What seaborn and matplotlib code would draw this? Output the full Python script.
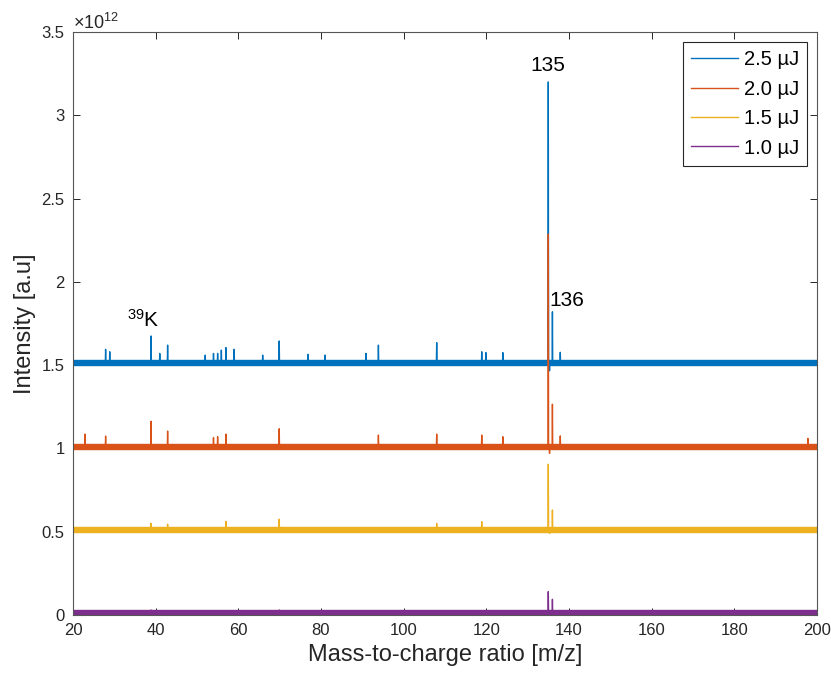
import numpy as np
import pandas as pd
import matplotlib
matplotlib.use('Agg')
import matplotlib.pyplot as plt
import seaborn as sns

# energies (legend order = plotting order)
labels = ['2.5 µJ', '2.0 µJ', '1.5 µJ', '1.0 µJ']
colors = ['#0072BD', '#D95319', '#EDB120', '#7E2F8E']
baselines = [1.515e12, 1.01e12, 0.51e12, 0.01e12]

# peak positions (m/z) and apex intensities
peaks_mz = [
    [27.9, 28.9, 38.9, 41.0, 42.9, 52.0, 54.0, 55.0, 55.9, 57.0, 59.0, 65.9, 69.9,
     76.9, 81.0, 90.9, 93.9, 108.0, 118.9, 119.9, 124.0, 135.0, 135.3, 136.0, 137.9],
    [22.9, 27.9, 38.9, 42.9, 54.0, 55.0, 57.0, 69.9, 93.9, 108.0, 118.9, 124.0,
     135.0, 135.3, 136.0, 137.9, 197.8],
    [38.9, 42.9, 57.0, 69.9, 108.0, 118.9, 135.0, 135.3, 136.0],
    [38.9, 69.9, 135.0, 135.3, 136.0],
]
peaks_int = [
    [1.595e12, 1.58e12, 1.675e12, 1.57e12, 1.62e12, 1.56e12, 1.57e12, 1.57e12, 1.59e12,
     1.605e12, 1.595e12, 1.56e12, 1.645e12, 1.565e12, 1.56e12, 1.57e12, 1.62e12,
     1.635e12, 1.58e12, 1.575e12, 1.575e12, 3.20e12, 1.466e12, 1.82e12, 1.577e12],
    [1.086e12, 1.074e12, 1.163e12, 1.104e12, 1.065e12, 1.07e12, 1.086e12, 1.118e12,
     1.08e12, 1.086e12, 1.08e12, 1.07e12, 2.287e12, 0.97e12, 1.265e12, 1.075e12, 1.06e12],
    [0.55e12, 0.545e12, 0.562e12, 0.575e12, 0.55e12, 0.56e12, 0.905e12, 0.49e12, 0.63e12],
    [0.03e12, 0.03e12, 0.14e12, 0.0e12, 0.094e12],
]
mz_range = [20, 200]

plt.rcParams['font.family'] = ['Liberation Sans', 'DejaVu Sans']
plt.rcParams['mathtext.fontset'] = 'custom'
plt.rcParams['mathtext.rm'] = 'Liberation Sans'
plt.rcParams['mathtext.it'] = 'Liberation Sans'

fig = plt.figure(figsize=(8.31, 6.79), dpi=100)
ax = fig.add_axes([0.0878, 0.0943, 0.8953, 0.8586])

w = 0.07
for lab, col, base, mzs, ints in zip(labels, colors, baselines, peaks_mz, peaks_int):
    xs, ys = [mz_range[0]], [base]
    for m, v in zip(mzs, ints):
        xs += [m - w, m, m + w]
        ys += [base, v, base]
    xs.append(mz_range[1])
    ys.append(base)
    df = pd.DataFrame({'mz': xs, 'I': ys})
    # noise band of the baseline
    sns.lineplot(x=[mz_range[0], mz_range[1]], y=[base, base], color=col, lw=4.6,
                 ax=ax, legend=False)
    sns.lineplot(data=df, x='mz', y='I', color=col, lw=1.0, sort=False,
                 estimator=None, ax=ax, label=lab)

ax.set_xlim(20, 200)
ax.set_ylim(0, 3.5e12)
ax.set_xticks(np.arange(20, 201, 20))
yt = np.arange(0, 3.51, 0.5)
ax.set_yticks(yt * 1e12)
ax.set_yticklabels([f'{v:g}' for v in yt])
ax.tick_params(direction='in', top=True, right=True, length=5, width=0.7,
               labelsize=12, colors='#262626', pad=6)
for sp in ax.spines.values():
    sp.set_color('#555555')
    sp.set_linewidth(0.8)

ax.set_xlabel('Mass-to-charge ratio [m/z]', fontsize=17, color='#262626')
ax.set_ylabel('Intensity [a.u]', fontsize=17, color='#262626')
ax.text(0.0, 0.998, r'$\times10^{12}$', transform=ax.transAxes, fontsize=13,
        ha='left', va='bottom', color='#262626')

ax.text(135.0, 3.24e12, '135', ha='center', va='bottom', fontsize=15)
ax.text(135.2, 1.885e12, '136', ha='left', va='center', fontsize=15)
ax.text(33.0, 1.77e12, r'$^{39}$K', ha='left', va='center', fontsize=15)

leg = ax.legend(loc='upper right', fontsize=14.5, handlelength=2.3, labelspacing=0.52,
                borderaxespad=0.5, fancybox=False, framealpha=1, borderpad=0.4,
                handletextpad=0.3)
leg.get_frame().set_edgecolor('#262626')
leg.get_frame().set_linewidth(0.8)
for h in leg.get_lines():
    h.set_linewidth(1.0)

fig.savefig('out.png', dpi=100)
